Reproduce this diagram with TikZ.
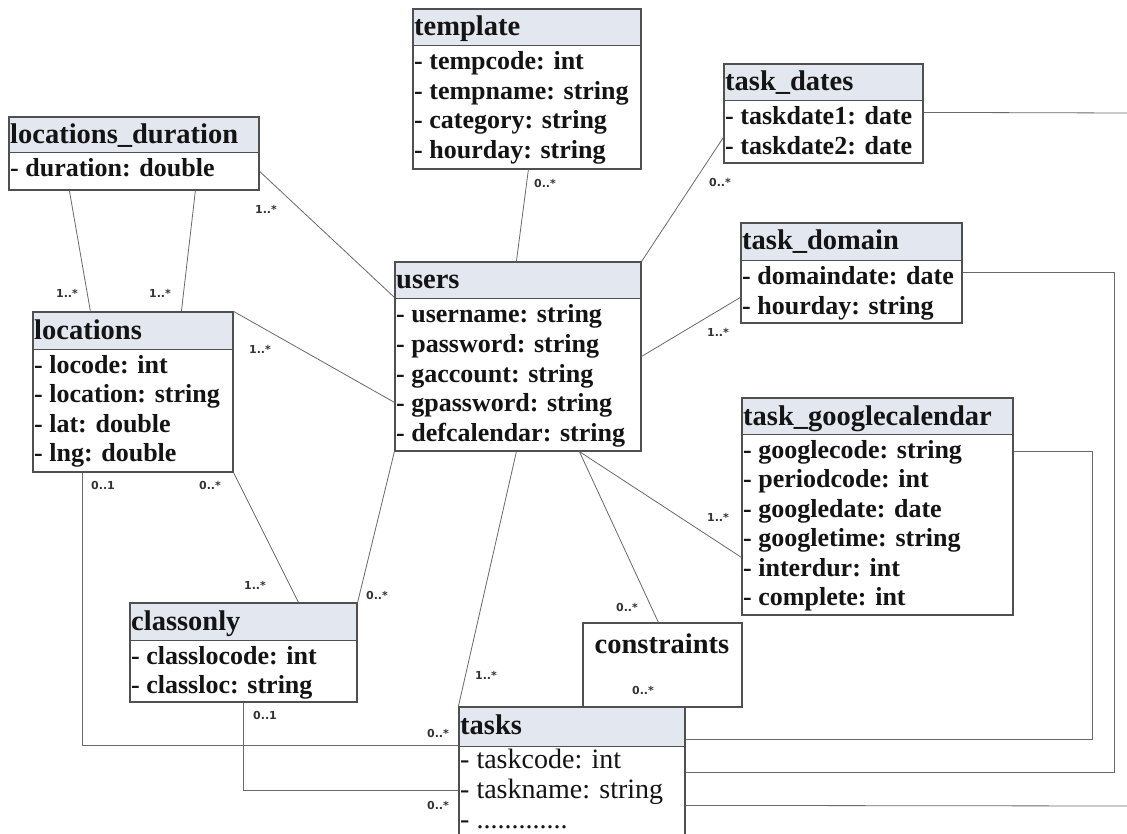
\documentclass[tikz,border=0pt]{standalone}
\usepackage{fontspec}
\setmainfont{Liberation Serif}
\newfontfamily\lblfont{DejaVu Sans}
\usetikzlibrary{fit,calc}
\definecolor{headfill}{RGB}{227,231,239}
\definecolor{framegray}{RGB}{80,80,80}
\definecolor{linegray}{RGB}{105,105,105}
\definecolor{inkcol}{RGB}{20,20,20}
\tikzset{
  classframe/.style={draw=framegray, line width=1.2pt, inner sep=0pt, rectangle},
  titletext/.style={inner sep=0pt, text=inkcol, font=\fontsize{28.5}{30}\selectfont\bfseries},
  attrtext/.style={inner sep=0pt, text=inkcol, font=\fontsize{26}{30}\selectfont\bfseries},
  plainattr/.style={inner sep=0pt, text=inkcol, font=\fontsize{28}{30}\selectfont},
  link/.style={draw=linegray, line width=0.8pt},
  mult/.style={inner sep=0pt, text=black!80, font=\lblfont\fontsize{11}{11}\selectfont\bfseries},
}
% name, x1, y1, x2, y2, header bottom, title
\newcommand{\umlcls}[7]{%
  \fill[headfill] (#2,#3) rectangle (#4,#6);
  \draw[draw=framegray, line width=1pt] (#2,#6) -- (#4,#6);
  \node[classframe, fit={(#2,#3) (#4,#5)}] (#1) {};
  \node[titletext, anchor=base west] (#1-title) at ({#2+1},{#3+27}) {#7};
}
% name, x1, header bottom, list
\newcommand{\umlattrs}[4]{%
  \foreach \t [count=\i] in {#4}
    \node[attrtext, anchor=base west] (#1-a\i) at ({#2+1},{#3+24+29.5*(\i-1)}) {\t};
}
\begin{document}
\begin{tikzpicture}[x=1pt,y=-1pt]
\useasboundingbox (0,0) rectangle (1127,834);
\fill[white] (0,0) rectangle (1127,834);
\clip (0,0) rectangle (1127,834);

% ---------- classes ----------
\umlcls{template}{413}{9}{641}{169}{46}{template}
\umlattrs{template}{413}{46}{- tempcode: int, - tempname: string, - category: string, - hourday: string}

\umlcls{tdates}{724}{64}{923}{163}{101}{task\_dates}
\umlattrs{tdates}{724}{101}{- taskdate1: date, - taskdate2: date}

\umlcls{locdur}{9}{117}{259}{190}{153}{locations\_duration}
\umlattrs{locdur}{9}{153}{- duration: double}

\umlcls{tdom}{741}{223}{962}{323}{261}{task\_domain}
\umlattrs{tdom}{741}{261}{- domaindate: date, - hourday: string}

\umlcls{users}{395}{262}{641}{451}{299}{users}
\umlattrs{users}{395}{299}{- username: string, - password: string, - gaccount: string, - gpassword: string, - defcalendar: string}

\umlcls{locations}{33}{312}{233}{472}{349}{locations}
\umlattrs{locations}{33}{349}{- locode: int, - location: string, - lat: double, - lng: double}

\umlcls{tgc}{742}{398}{1013}{615}{434}{task\_googlecalendar}
\umlattrs{tgc}{742}{434}{- googlecode: string, - periodcode: int, - googledate: date, - googletime: string, - interdur: int, - complete: int}

\umlcls{classonly}{130}{603}{357}{702}{640}{classonly}
\umlattrs{classonly}{130}{640}{- classlocode: int, - classloc: string}

\node[classframe, fit={(583,623) (742,707)}] (constraints) {};
\node[titletext, anchor=base] (constraints-title) at (662,653) {constraints};

\umlcls{tasks}{459}{707}{685}{860}{746}{tasks}
\node[plainattr, anchor=base west] (tasks-a1) at (460,768) {- taskcode: int};
\node[plainattr, anchor=base west] (tasks-a2) at (460,798) {- taskname: string};
\node[plainattr, anchor=base west] (tasks-a3) at (460,828) {- .............};

% ---------- free ends at the right edge ----------
\coordinate (edgeA) at (1127,113);
\coordinate (edgeB) at (1127,806);

% ---------- connectors ----------
\draw[link] ($(locdur.south west)+(61,0)$) -- ($(locations.north west)+(58,0)$);
\draw[link] ($(locdur.south west)+(187,0)$) -- ($(locations.north west)+(149,0)$);
\draw[link] ($(locdur.north east)+(0,55)$) -- ($(users.north west)+(0,36)$);
\draw[link] (locations.north east) -- ($(users.north west)+(0,141)$);
\draw[link] ($(template.south west)+(116,0)$) -- ($(users.north west)+(122,0)$);
\draw[link] ($(tdates.north west)+(0,74)$) -- (users.north east);
\draw[link] ($(tdom.north west)+(0,75)$) -- ($(users.north east)+(0,95)$);
\draw[link] ($(users.south west)+(185,0)$) -- ($(tgc.north west)+(0,160)$);
\draw[link] ($(users.south west)+(185,0)$) -- ($(constraints.north west)+(76,0)$);
\draw[link] ($(users.south west)+(122,0)$) -- (tasks.north west);
\draw[link] (users.south west) -- (classonly.north east);
\draw[link] (locations.south east) -- ($(classonly.north west)+(169,0)$);
\draw[link] ($(locations.south west)+(50,0)$) |- ($(tasks.north west)+(0,39)$);
\draw[link] ($(classonly.south west)+(114,0)$) |- ($(tasks.north west)+(0,84)$);
\draw[link] ($(tasks.north east)+(0,33)$) -| ($(tgc.north east)+(79,54)$) -- ($(tgc.north east)+(0,54)$);
\draw[link] ($(tasks.north east)+(0,66)$) -| ($(tdom.north east)+(152,50)$) -- ($(tdom.north east)+(0,50)$);
\draw[link] ($(tasks.north east)+(0,99)$) -- (edgeB);
\draw[link] ($(tdates.north east)+(0,49)$) -- (edgeA);

% ---------- multiplicities ----------
\node[mult] (m1) at (67,293) {1..*};
\node[mult] (m2) at (160,293) {1..*};
\node[mult] (m3) at (266,209) {1..*};
\node[mult] (m4) at (545,183) {0..*};
\node[mult] (m5) at (720,182) {0..*};
\node[mult] (m6) at (718,332) {1..*};
\node[mult] (m7) at (260,349) {1..*};
\node[mult] (m8) at (103,485) {0..1};
\node[mult] (m9) at (210,485) {0..*};
\node[mult] (m10) at (255,585) {1..*};
\node[mult] (m11) at (377,595) {0..*};
\node[mult] (m12) at (718,517) {1..*};
\node[mult] (m13) at (627,607) {0..*};
\node[mult] (m14) at (486,675) {1..*};
\node[mult] (m15) at (643,690) {0..*};
\node[mult] (m16) at (265,715) {0..1};
\node[mult] (m17) at (438,733) {0..*};
\node[mult] (m18) at (438,805) {0..*};
\end{tikzpicture}
\end{document}
